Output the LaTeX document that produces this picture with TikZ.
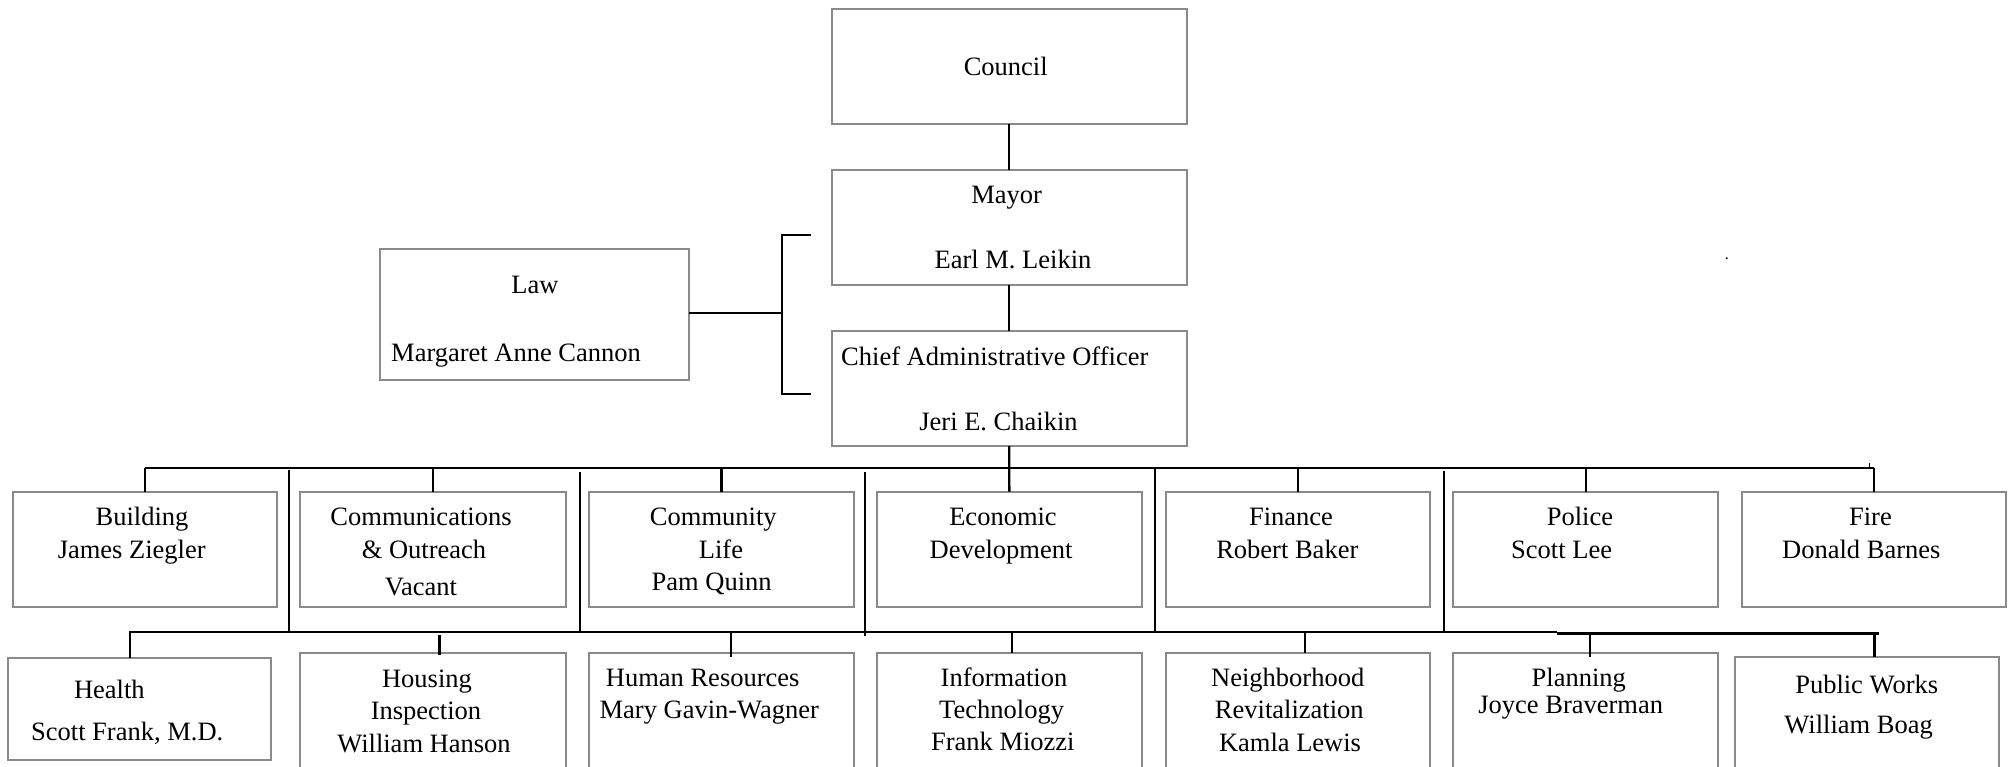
\documentclass[tikz,border=0pt]{standalone}
\usepackage{fontspec}
\setmainfont{Liberation Serif}
\usetikzlibrary{fit}
\definecolor{boxgray}{RGB}{138,138,138}
\tikzset{
  box/.style={draw=boxgray, line width=2pt, inner sep=0pt, outer sep=0pt},
  txt/.style={font=\fontsize{26.5}{31}\selectfont, inner sep=0pt, anchor=base},
  txtw/.style={txt, anchor=base west},
  conn/.style={draw=black, line width=2.3pt},
}
\begin{document}
\begin{tikzpicture}[x=1pt,y=-1pt]
\useasboundingbox (0,0) rectangle (2011,767);
\clip (0,0) rectangle (2011,767);
\fill[white] (0,0) rectangle (2011,767);

% ---- top boxes
\node[box, fit={(832,9)(1186.5,124.5)}] (council) {};
\node[box, fit={(832,170)(1186.5,285.3)}] (mayor) {};
\node[box, fit={(832,330.7)(1186.5,446)}] (cao) {};
\node[box, fit={(380,249.3)(689,380)}] (law) {};

% ---- row 1 boxes
\node[box, fit={(12.5,491.7)(277,606.7)}] (bld) {};
\node[box, fit={(300.4,491.7)(565.6,606.7)}] (com) {};
\node[box, fit={(589,491.7)(853.7,606.7)}] (cl) {};
\node[box, fit={(877,491.7)(1141.7,606.7)}] (eco) {};
\node[box, fit={(1165.7,491.7)(1430,606.7)}] (fin) {};
\node[box, fit={(1453.3,491.7)(1718,606.7)}] (pol) {};
\node[box, fit={(1741.6,491.7)(2006.4,606.7)}] (fire) {};

% ---- row 2 boxes
\node[box, fit={(7.5,658.3)(271,760)}] (hea) {};
\node[box, fit={(300.4,652.5)(565.6,800)}] (hou) {};
\node[box, fit={(589,652.5)(853.7,800)}] (hr) {};
\node[box, fit={(877,652.5)(1141.7,800)}] (it) {};
\node[box, fit={(1165.7,652.5)(1430,800)}] (nb) {};
\node[box, fit={(1453.3,652.5)(1718,800)}] (pl) {};
\node[box, fit={(1735,656.7)(1999,800)}] (pw) {};

% ---- texts
\node[txt] (council-t) at (1005.7,75.3) {Council};
\node[txt] (mayor-t1) at (1006.6,203.8) {Mayor};
\node[txt] (mayor-t2) at (1013,268.1) {Earl M. Leikin};
\node[txtw] (cao-t1) at (841,365.5) {Chief Administrative Officer};
\node[txt] (cao-t2) at (998.5,430.5) {Jeri E. Chaikin};
\node[txt] (law-t1) at (535,293.8) {Law};
\node[txtw] (law-t2) at (391,361.5) {Margaret Anne Cannon};

\node[txt] (bld-t1) at (142,525.5) {Building};
\node[txt] (bld-t2) at (131.7,558.8) {James Ziegler};
\node[txt] (com-t1) at (421,525.5) {Communications};
\node[txt] (com-t2) at (424,558.8) {\& Outreach};
\node[txt] (com-t3) at (421,595.5) {Vacant};
\node[txt] (cl-t1) at (713.3,525.5) {Community};
\node[txt] (cl-t2) at (721,558.8) {Life};
\node[txt] (cl-t3) at (711.7,590.5) {Pam Quinn};
\node[txt] (eco-t1) at (1003,525.5) {Economic};
\node[txt] (eco-t2) at (1001,558.8) {Development};
\node[txt] (fin-t1) at (1291,525.5) {Finance};
\node[txt] (fin-t2) at (1287.3,558.8) {Robert Baker};
\node[txt] (pol-t1) at (1580,525.5) {Police};
\node[txt] (pol-t2) at (1561.6,558.8) {Scott Lee};
\node[txt] (fire-t1) at (1870.4,525.5) {Fire};
\node[txt] (fire-t2) at (1861.3,558.8) {Donald Barnes};

\node[txt] (hea-t1) at (109.4,698.8) {Health};
\node[txt] (hea-t2) at (127.2,740.5) {Scott Frank, M.D.};
\node[txt] (hou-t1) at (427,687) {Housing};
\node[txt] (hou-t2) at (426,719) {Inspection};
\node[txt] (hou-t3) at (424,752) {William Hanson};
\node[txt] (hr-t1) at (702.7,686.5) {Human Resources};
\node[txt] (hr-t2) at (709.3,718.8) {Mary Gavin-Wagner};
\node[txt] (it-t1) at (1004,686.5) {Information};
\node[txt] (it-t2) at (1001.6,718.8) {Technology};
\node[txt] (it-t3) at (1002.8,750.5) {Frank Miozzi};
\node[txt] (nb-t1) at (1287.7,686.5) {Neighborhood};
\node[txt] (nb-t2) at (1289.3,718.8) {Revitalization};
\node[txt] (nb-t3) at (1290,751.5) {Kamla Lewis};
\node[txt] (pl-t1) at (1578.8,686.8) {Planning};
\node[txt] (pl-t2) at (1570.7,713) {Joyce Braverman};
\node[txt] (pw-t1) at (1866.7,693.8) {Public Works};
\node[txt] (pw-t2) at (1858.6,733) {William Boag};

% ---- connectors (top)
\draw[conn] (council.south) -- (mayor.north);
\draw[conn] (mayor.south) -- (cao.north);
\draw[conn] (cao.south) -- (eco.north);

% ---- law bracket
\coordinate (brT) at (811,235);
\coordinate (brB) at (811,394.3);
\coordinate (brM) at (781.7,312.7);
\draw[conn] (brT) -- (brM |- brT) -- (brM |- brB) -- (brB);
\draw[conn] (law.east |- brM) -- (brM);

% ---- row 1 bus
\coordinate (b1) at (0,468.3);
\draw[conn] (bld.north |- b1) -- (fire.north |- b1);
\foreach \n in {bld,com,cl,fin,pol,fire}
  \draw[conn] (\n.north |- b1) -- (\n.north);
\coordinate (tk1) at (1869,462.5);
\draw[line width=1pt] (tk1) -- (tk1 |- b1);

% ---- vertical links between buses
\coordinate (v1t) at (289.3,470);  \coordinate (v1b) at (289.3,633);
\coordinate (v2t) at (580,472);    \coordinate (v2b) at (580,633);
\coordinate (v3t) at (865.3,472);  \coordinate (v3b) at (865.3,636);
\coordinate (v4t) at (1154.7,468.3); \coordinate (v4b) at (1154.7,633);
\coordinate (v5t) at (1443.7,471); \coordinate (v5b) at (1443.7,633);
\foreach \i in {1,...,5}
  \draw[conn] (v\i t) -- (v\i b);

% ---- row 2 bus
\coordinate (b2L) at (129,632.2);
\coordinate (b2M) at (1557.3,632.2);
\coordinate (b2N) at (1557.3,633.4);
\coordinate (b2R) at (1879,633.4);
\draw[conn] (b2L) -- (b2M);
\draw[conn] (b2N) -- (b2R);

\coordinate (d1) at (130,632.2);
\coordinate (d2) at (439.5,634.8);
\coordinate (d3) at (730.7,632.2);
\coordinate (d4) at (1012,632.2);
\coordinate (d5) at (1305,632.2);
\coordinate (d6) at (1590,633.4);
\coordinate (d7) at (1874.4,633.4);
\draw[conn] (d1) -- (d1 |- hea.north);
\draw[conn] (d2) -- ([yshift=-2.5pt]d2 |- hou.north);
\draw[conn] (d3) -- ([yshift=-4.8pt]d3 |- hr.north);
\draw[conn] (d4) -- (d4 |- it.north);
\draw[conn] (d5) -- (d5 |- nb.north);
\draw[conn] (d6) -- ([yshift=-4.2pt]d6 |- pl.north);
\draw[conn] (d7) -- (d7 |- pw.north);

% ---- stray dot
\fill (1726.7,258.3) circle (1.1);
\end{tikzpicture}
\end{document}
